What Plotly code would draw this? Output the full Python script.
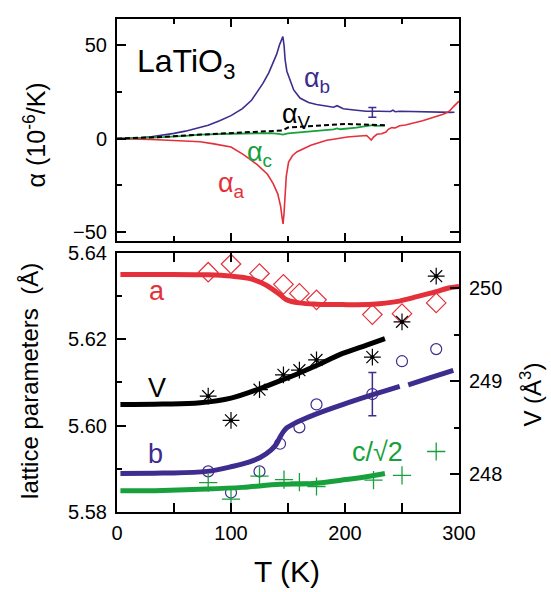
import plotly.graph_objects as go

# ---------------- top panel: thermal expansion alpha (1e-6/K) ----------------
T_alpha_b = [0, 10, 20, 30, 40, 50, 60, 73, 80, 90, 100, 110, 118, 123, 128, 133, 137, 140, 142.5, 144.5, 145.5,
             146.5, 147.5, 149, 151, 155, 160.5, 168, 175, 183, 190, 193, 196, 198.5, 210, 218.5, 230, 240, 242, 244,
             248, 260, 277, 293, 296]
alpha_b = [0, 0.1, 0.4, 1.0, 1.8, 2.8, 4.0, 6.1, 7.2, 9.5, 12.3, 16.0, 20.5, 25.0, 29.5, 35.0, 41.0, 45.0, 50.0, 53.0, 54.5,
           50.0, 42.0, 36.0, 33.0, 26.0, 21.7, 19.3, 18.2, 17.3, 16.8, 17.6, 16.6, 16.0, 15.2, 14.6, 14.6, 14.5, 15.2, 14.4,
           14.6, 14.4, 14.0, 14.0, 14.1]

T_alpha_a = [0, 20, 30, 40, 50, 60, 73, 85, 100, 111, 123, 132, 137, 141, 143.5, 145, 145.7, 146.5, 147.5, 148.5,
             150.5, 154, 158, 165, 170, 177, 184, 190, 195, 202, 210, 215, 219, 221, 223, 225, 228, 232, 236, 238, 241,
             244, 248, 253, 258, 263, 268, 273, 277, 282, 286, 289, 292, 295, 297, 299, 300]
alpha_a = [0, 0, -0.4, -0.7, -0.9, -1.2, -1.7, -2.8, -4.5, -8.5, -13.9, -19.0, -24.0, -29.5, -36.0, -43.0, -45.5, -40.0,
           -28.0, -20.0, -12.5, -9.0, -7.0, -5.0, -3.5, -2.2, -0.9, -0.3, 0.3, 0.9, 1.3, 1.5, 1.7, 0.5, -0.8, 0.8, 2.3,
           2.6, 3.5, 5.0, 5.9, 5.7, 6.9, 7.3, 8.0, 8.6, 9.6, 10.5, 11.2, 12.0, 13.0, 13.8, 15.0, 17.0, 18.3, 19.4, 20.0]

T_alpha_c = [0, 20, 40, 60, 73, 100, 117, 135, 142, 145.5, 150, 170, 190, 193, 196, 210, 222, 224, 226, 235]
alpha_c = [0, 0.3, 0.8, 1.5, 2.1, 2.6, 2.9, 2.9, 2.5, 2.1, 2.8, 3.8, 4.9, 5.5, 5.0, 5.9, 6.7, 7.2, 6.8, 6.9]

T_alpha_V = [0, 20, 40, 60, 73, 100, 120, 140, 145, 150, 160, 175, 200, 215, 225, 235]
alpha_V = [0, 0.3, 0.9, 1.7, 2.2, 3.0, 3.6, 4.2, 4.3, 5.9, 6.3, 6.9, 7.8, 7.6, 7.3, 7.2]

T_err_alpha = [224]
alpha_err_val = [14.0]
alpha_err = [2.6]

# ---------------- bottom panel: lattice parameters (A) and volume (A^3) ----------------
T_a_fit = [3, 40, 80, 100, 116.7, 131, 143, 149, 160, 175, 198, 224, 245, 264, 280, 290, 300]
a_fit = [5.6350, 5.6350, 5.6349, 5.6346, 5.6340, 5.6325, 5.6303, 5.6291, 5.6284, 5.6281, 5.6280, 5.6281, 5.6287,
         5.6299, 5.6310, 5.6318, 5.6322]

T_a_pts = [80, 100, 125, 146, 160, 175, 224, 250, 280]
a_pts = [5.6355, 5.6374, 5.6352, 5.6327, 5.6306, 5.6291, 5.6257, 5.6259, 5.6284]

T_b_fit = [3, 40, 79, 102, 115, 125.6, 135, 140, 143, 146, 149, 155, 160.5, 175, 198.5, 225, 248, None,
           255.5, 275, 295]
b_fit = [5.5889, 5.5890, 5.5894, 5.5906, 5.5915, 5.5926, 5.5943, 5.5958, 5.5973, 5.5986, 5.5995, 5.6004, 5.6011,
         5.6027, 5.6049, 5.6072, 5.6091, None, 5.6094, 5.6111, 5.6128]

T_b_pts = [80, 100, 125, 143, 160, 175, 224, 250, 280]
b_pts = [5.5894, 5.5845, 5.5894, 5.5958, 5.5996, 5.6049, 5.6073, 5.6149, 5.6177]
T_b_err = [224]
b_err_val = [5.6073]
b_err = [0.005]

T_c_fit = [3, 40, 79, 110, 143, 172, 201, 220, 235]
c_fit = [5.5849, 5.5850, 5.5853, 5.5857, 5.5864, 5.5866, 5.5875, 5.5882, 5.5889]

T_c_pts = [80, 100, 125, 146.5, 160, 175, 225, 250, 280]
c_pts = [5.5868, 5.5830, 5.5883, 5.5875, 5.5869, 5.5859, 5.5874, 5.5885, 5.5940]

T_V_fit = [3, 40, 73, 100, 125, 146, 160, 175, 198, 219, 235]
V_fit = [248.75, 248.755, 248.77, 248.82, 248.92, 249.02, 249.09, 249.17, 249.30, 249.39, 249.46]

T_V_pts = [80, 100, 125, 146, 160, 175, 224, 250, 280]
V_pts = [248.84, 248.58, 248.91, 249.07, 249.12, 249.23, 249.26, 249.64, 250.13]

# ---------------- styling ----------------
RED = "#e4303a"
PURPLE = "#3e2c8e"
GREEN = "#18a03c"
FONT = "Liberation Sans, Arial, Helvetica, sans-serif"

fig = go.Figure()

# top panel
fig.add_trace(go.Scatter(x=T_alpha_b, y=alpha_b, mode="lines", line=dict(color=PURPLE, width=1.6),
                         xaxis="x", yaxis="y"))
fig.add_trace(go.Scatter(x=T_alpha_a, y=alpha_a, mode="lines", line=dict(color=RED, width=1.6),
                         xaxis="x", yaxis="y"))
fig.add_trace(go.Scatter(x=T_alpha_c, y=alpha_c, mode="lines", line=dict(color=GREEN, width=1.8),
                         xaxis="x", yaxis="y"))
fig.add_trace(go.Scatter(x=T_alpha_V, y=alpha_V, mode="lines", line=dict(color="black", width=2, dash="5px,3px"),
                         xaxis="x", yaxis="y"))
fig.add_trace(go.Scatter(x=T_err_alpha, y=alpha_err_val, mode="markers", marker=dict(size=1, color=PURPLE),
                         error_y=dict(type="data", array=alpha_err, color=PURPLE, thickness=1.5, width=4),
                         xaxis="x", yaxis="y"))

# bottom panel
fig.add_trace(go.Scatter(x=T_a_fit, y=a_fit, mode="lines", line=dict(color=RED, width=5, shape="spline"),
                         xaxis="x2", yaxis="y2"))
fig.add_trace(go.Scatter(x=T_a_pts, y=a_pts, mode="markers",
                         marker=dict(symbol="diamond-open", size=15, color=RED, line=dict(width=1.2, color=RED)),
                         xaxis="x2", yaxis="y2"))
fig.add_trace(go.Scatter(x=T_b_fit, y=b_fit, mode="lines", line=dict(color=PURPLE, width=5, shape="spline"),
                         connectgaps=False, xaxis="x2", yaxis="y2"))
fig.add_trace(go.Scatter(x=T_b_pts, y=b_pts, mode="markers",
                         marker=dict(symbol="circle-open", size=11, color=PURPLE, line=dict(width=1.2, color=PURPLE)),
                         xaxis="x2", yaxis="y2"))
fig.add_trace(go.Scatter(x=T_b_err, y=b_err_val, mode="markers", marker=dict(size=1, color=PURPLE),
                         error_y=dict(type="data", array=b_err, color=PURPLE, thickness=1.5, width=4),
                         xaxis="x2", yaxis="y2"))
fig.add_trace(go.Scatter(x=T_c_fit, y=c_fit, mode="lines", line=dict(color=GREEN, width=5, shape="spline"),
                         xaxis="x2", yaxis="y2"))
fig.add_trace(go.Scatter(x=T_c_pts, y=c_pts, mode="markers",
                         marker=dict(symbol="cross-thin-open", size=13, color=GREEN, line=dict(width=1.3, color=GREEN)),
                         xaxis="x2", yaxis="y2"))
fig.add_trace(go.Scatter(x=T_V_fit, y=V_fit, mode="lines", line=dict(color="black", width=5, shape="spline"),
                         xaxis="x2", yaxis="y3"))
fig.add_trace(go.Scatter(x=T_V_pts, y=V_pts, mode="markers",
                         marker=dict(symbol="asterisk-open", size=14, color="black", line=dict(width=1.2, color="black")),
                         xaxis="x2", yaxis="y3"))
fig.add_trace(go.Scatter(x=T_V_pts, y=V_pts, mode="markers",
                         marker=dict(symbol="circle", size=4, color="black"),
                         xaxis="x2", yaxis="y3"))

axis_common = dict(showline=True, linewidth=2, linecolor="black", ticks="inside", tickwidth=1.5,
                   tickcolor="black", showgrid=False, zeroline=False,
                   tickfont=dict(family=FONT, size=20, color="black"))

TOP_DOM = [0.5496, 1.0]
BOT_DOM = [0.0, 0.5258]

fig.update_layout(
    width=551, height=592,
    margin=dict(l=117, r=92, t=8, b=80),
    paper_bgcolor="white", plot_bgcolor="white",
    showlegend=False,
    font=dict(family=FONT, color="black"),
    xaxis=dict(domain=[0, 1], anchor="y", range=[0, 300], dtick=100, tick0=0, ticklen=8,
               minor=dict(ticks="inside", dtick=50, ticklen=5, tickwidth=1.5, tickcolor="black"),
               showticklabels=False, mirror="allticks", **axis_common),
    yaxis=dict(domain=TOP_DOM, anchor="x", range=[-54.7, 63.9], dtick=50, tick0=0, ticklen=9,
               minor=dict(ticks="inside", dtick=25, ticklen=5, tickwidth=1.5, tickcolor="black"),
               mirror="allticks", ticklabelstandoff=4, **axis_common),
    xaxis2=dict(domain=[0, 1], anchor="y2", range=[0, 300], dtick=100, tick0=0, ticklen=9,
                minor=dict(ticks="inside", dtick=50, ticklen=5, tickwidth=1.5, tickcolor="black"),
                mirror="allticks", ticklabelstandoff=2, **axis_common),
    yaxis2=dict(domain=BOT_DOM, anchor="x2", range=[5.58, 5.64], dtick=0.02, tick0=5.58, ticklen=9,
                tickformat=".2f",
                minor=dict(ticks="inside", dtick=0.01, ticklen=5, tickwidth=1.5, tickcolor="black"),
                ticklabelstandoff=4, **axis_common),
    yaxis3=dict(overlaying="y2", anchor="x2", side="right", range=[247.595, 250.382], dtick=1, tick0=248,
                ticklen=9,
                minor=dict(ticks="inside", dtick=0.5, ticklen=5, tickwidth=1.5, tickcolor="black"),
                ticklabelstandoff=4, **axis_common),
)

def px2paper(px, py):
    # page pixel -> paper coordinates (plot area spans x 117..459, y 8..512)
    return (px - 117) / 342.0, (512 - py) / 504.0

annots = [
    ("LaTiO<sub>3</sub>", 186, 53, 32, "black", 0),
    ("α<sub>b</sub>", 317, 70, 27, PURPLE, 0),
    ("α<sub>V</sub>", 296, 107, 27, "black", 0),
    ("α<sub>c</sub>", 259, 146, 27, GREEN, 0),
    ("α<sub>a</sub>", 231, 178, 27, RED, 0),
    ("a", 157, 286, 27, RED, 0),
    ("V", 157, 385, 27, "black", 0),
    ("b", 155, 453, 27, PURPLE, 0),
    ("c/√2", 377, 451, 27, GREEN, 0),
    ("α (10<sup>-6</sup>/K)", 35, 127, 25, "black", -90),
    ("lattice parameters  (Å)", 30, 378, 24, "black", -90),
    ("V (Å<sup>3</sup>)", 531, 392, 24, "black", -90),
    ("T (K)", 287, 573, 30, "black", 0),
]
for txt, px, py, size, col, ang in annots:
    xp, yp = px2paper(px, py)
    fig.add_annotation(text=txt, x=xp, y=yp, xref="paper", yref="paper", showarrow=False,
                       xanchor="center", yanchor="middle", textangle=ang,
                       font=dict(family=FONT, size=size, color=col))

# remove the default 8px page margin so the 551x592 figure fills the window exactly
fig.write_html("out.html",
               config={"displayModeBar": False},
               post_script="document.body.style.margin='0px';document.body.style.overflow='hidden';")
